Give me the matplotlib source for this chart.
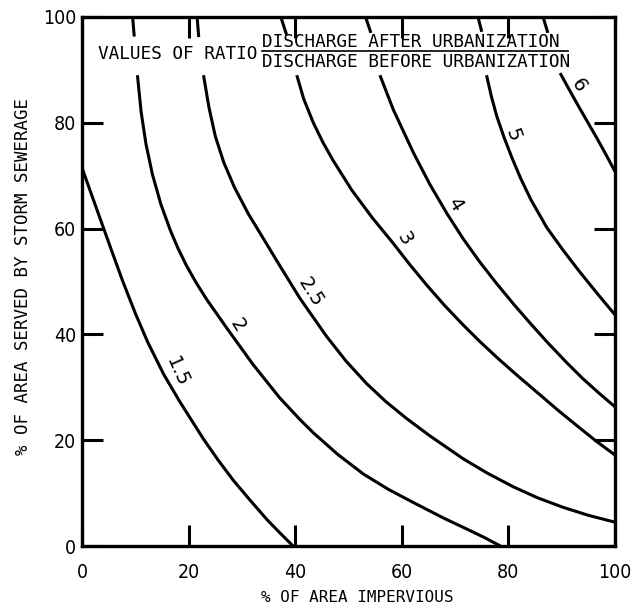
import numpy as np
import matplotlib
matplotlib.use("Agg")
import matplotlib.pyplot as plt

# Discharge ratio curves: % impervious (x) vs % served by storm sewerage (y)
ratio_labels = ["1.5", "2", "2.5", "3", "4", "5", "6"]

# short stubs where the curves meet the top edge (above the heading)
stub_x = {
    "2": [9.5, 9.8], "2.5": [21.6, 21.9], "3": [37.3, 38.4],
    "4": [53.2, 54.2], "5": [74.3, 75.0], "6": [86.5, 87.4],
}
stub_y = {
    "2": [100, 96.3], "2.5": [100, 96.2], "3": [100, 96.6],
    "4": [100, 97.0], "5": [100, 97.2], "6": [100, 97.0],
}

# main body of each curve
curve_x = {
    "1.5": [0.0, 1.8, 4.0, 6.0, 7.7, 10.0, 12.3, 15.3, 18.4, 22.8, 25.5, 28.4,
            31.5, 34.7, 37.2, 39.6],
    "2": [10.4, 11.1, 12.0, 13.2, 14.8, 16.6, 18.0, 19.6, 21.4, 23.4, 27.3, 32.1,
          37.1, 40.9, 43.4, 48.0, 52.8, 57.5, 62.2, 68.0, 72.0, 75.5, 78.5],
    "2.5": [22.8, 23.8, 25.0, 26.6, 28.6, 31.2, 34.7, 37.1, 40.9, 45.9, 49.5, 53.4,
            57.0, 60.9, 65.3, 71.5, 76.0, 80.9, 85.5, 90.3, 95.0, 100.0],
    "3": [40.3, 41.6, 43.4, 45.2, 47.1, 50.6, 54.5, 58.4, 61.5, 64.7, 68.0, 71.5,
          74.7, 78.0, 81.6, 85.9, 89.5, 93.4, 96.5, 100.0],
    "4": [55.9, 58.4, 62.2, 65.3, 68.5, 71.5, 74.7, 77.8, 81.0, 84.1, 87.5, 91.0,
          94.0, 97.0, 100.0],
    "5": [75.9, 76.8, 77.8, 79.2, 80.7, 82.3, 84.2, 87.2, 90.2, 93.4, 96.7, 100.0],
    "6": [89.7, 91.5, 93.4, 95.0, 96.6, 98.3, 100.0],
}
curve_y = {
    "1.5": [71.5, 66.4, 60.2, 54.6, 49.9, 44.0, 38.6, 32.5, 27.2, 20.2, 16.3, 12.4,
            8.7, 5.0, 2.4, 0.0],
    "2": [89.0, 82.0, 76.0, 70.3, 64.6, 59.6, 56.3, 53.0, 49.8, 46.6, 41.0, 34.3,
          28.0, 23.9, 21.4, 17.3, 13.6, 10.7, 8.2, 5.2, 3.3, 1.6, 0.0],
    "2.5": [89.0, 83.0, 77.5, 72.5, 67.8, 62.8, 57.0, 53.0, 46.8, 39.6, 35.0, 30.7,
            27.3, 24.1, 20.8, 16.5, 13.8, 11.2, 9.1, 7.3, 5.8, 4.5],
    "3": [89.0, 84.5, 80.0, 76.3, 72.9, 67.3, 62.0, 57.2, 53.2, 49.3, 45.5, 41.8,
          38.6, 35.5, 32.3, 28.6, 25.5, 22.3, 19.8, 17.2],
    "4": [89.0, 82.5, 74.3, 68.3, 62.8, 58.1, 53.6, 49.6, 45.7, 42.1, 38.3, 34.6,
          31.6, 28.9, 26.3],
    "5": [89.0, 85.0, 81.3, 77.2, 73.3, 69.5, 65.5, 60.2, 56.0, 51.8, 47.7, 43.7],
    "6": [89.4, 86.1, 82.7, 79.9, 77.1, 74.0, 70.8],
}

# where each ratio value is written, and its angle
label_x = [17.8, 29.1, 42.8, 60.4, 70.0, 80.9, 93.1]
label_y = [32.9, 41.8, 48.0, 58.2, 64.5, 77.7, 87.1]
label_rot = [-66, -58, -58, -60, -58, -70, -58]

ticks = [0, 20, 40, 60, 80, 100]
tick_labels = ["0", "20", "40", "60", "80", "100"]

fig = plt.figure(figsize=(6.33, 6.09), dpi=100)
ax = fig.add_axes([82 / 633, 63 / 609, 533 / 633, 529 / 609])

lw = 2.2
for name in ratio_labels:
    if name in stub_x:
        ax.plot(stub_x[name], stub_y[name], color="black", lw=lw, solid_capstyle="butt")
    ax.plot(curve_x[name], curve_y[name], color="black", lw=lw,
            solid_joinstyle="round", solid_capstyle="butt")

for txt, x, y, r in zip(ratio_labels, label_x, label_y, label_rot):
    ax.text(x, y, txt, rotation=r, ha="center", va="center", fontsize=14,
            rotation_mode="anchor", family=["DejaVu Sans"])

# heading with the ratio written as a fraction
mono = ["DejaVu Sans Mono"]
ax.text(3.0, 93.0, "VALUES OF RATIO", ha="left", va="center", fontsize=12.8, family=mono)
ax.text(33.8, 95.2, "DISCHARGE AFTER URBANIZATION", ha="left", va="center",
        fontsize=12.8, family=mono)
ax.text(33.8, 91.4, "DISCHARGE BEFORE URBANIZATION", ha="left", va="center",
        fontsize=12.8, family=mono)
ax.plot([33.8, 91.2], [93.6, 93.6], color="black", lw=1.2)

ax.set_xlim(0, 100)
ax.set_ylim(0, 100)
ax.set_xticks(ticks)
ax.set_yticks(ticks)
ax.set_xticklabels(tick_labels)
ax.set_yticklabels(tick_labels)
for lab in ax.get_xticklabels() + ax.get_yticklabels():
    lab.set_family(["DejaVu Sans"])
    lab.set_fontstretch("condensed")
    lab.set_fontsize(14)
ax.tick_params(direction="in", length=15, width=2.2, top=True, right=True)
ax.tick_params(axis="x", pad=12)
ax.tick_params(axis="y", pad=4)
for sp in ax.spines.values():
    sp.set_linewidth(2.4)

ax.set_xlabel("% OF AREA IMPERVIOUS", fontsize=11.5, family=mono)
ax.set_ylabel("% OF AREA SERVED BY STORM SEWERAGE", fontsize=12.5, family=mono)
ax.xaxis.set_label_coords(0.516, -0.083)
ax.yaxis.set_label_coords(-0.093, 0.51)

fig.savefig("out.png", dpi=100)
